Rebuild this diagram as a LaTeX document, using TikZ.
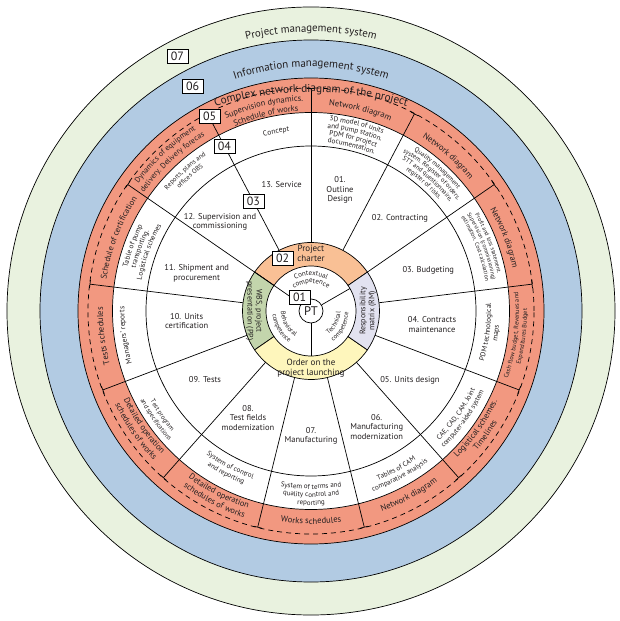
\documentclass[tikz,border=0pt]{standalone}
\usepackage{fontspec}
\setmainfont{PT Sans}
\usepackage{tikz}
\usetikzlibrary{positioning}
\usetikzlibrary{calc,arrows.meta}
\usetikzlibrary{decorations.text}

\definecolor{pmsgreen}{HTML}{E9F2DF}
\definecolor{imsblue}{HTML}{B2CBE3}
\definecolor{netred}{HTML}{F29880}
\definecolor{charterorange}{HTML}{F9C095}
\definecolor{matrixlilac}{HTML}{E2E2F0}
\definecolor{orderyellow}{HTML}{FEF6BC}
\definecolor{wbsgreen}{HTML}{C3D5AC}
\definecolor{inktext}{HTML}{231F20}

\tikzset{
	ring/.style={draw=black, line width=0.7pt},
	divider/.style={draw=black, line width=0.7pt},
	tdivider/.style={divider, -{Bar[width=8pt, line width=0.7pt]}},
	numbox/.style={draw=black, fill=white, line width=0.6pt, minimum width=21pt, minimum height=14pt, inner sep=0pt, text=inktext, font=\fontsize{12}{12}\selectfont},
	seglabel/.style={align=center, inner sep=0pt, text=inktext, font=\fontsize{8.5}{9.6}\selectfont},
	sectorlabel/.style={align=center, inner sep=0pt, text=inktext, font=\fontsize{9}{10}\selectfont},
}

% text on an arc, upright on the upper side (first line outermost)
\newcommand{\arcup}[4]{%
	\path[decorate, decoration={text along path, text align=center,
		text={|\fontsize{#3}{#3}\selectfont\color{inktext}|#4}}]
		(#1+70:#2pt) arc[start angle=#1+70, end angle=#1-70, radius=#2pt];}
% text on an arc, upright on the lower side (first line innermost)
\newcommand{\arcdown}[4]{%
	\path[decorate, decoration={text along path, text align=center,
		text={|\fontsize{#3}{#3}\selectfont\color{inktext}|#4}}]
		(#1-70:#2pt) arc[start angle=#1-70, end angle=#1+70, radius=#2pt];}

\begin{document}
\begin{tikzpicture}
		
		% ---------------------
		% Proper size --- Bounding box
		\useasboundingbox (-311pt,-310pt) rectangle (309pt,311pt);
		
		% ---------------------
		% Centre & bands
		\coordinate (O) at (0pt,0pt);
		
		\draw[ring, fill=pmsgreen] (O) circle[radius=304pt];
		\draw[ring, fill=imsblue] (O) circle[radius=271pt];
		\draw[ring, fill=netred] (O) circle[radius=233pt];
		\draw[ring, fill=white] (O) circle[radius=198.5pt];
		\draw[ring] (O) circle[radius=165pt];
		\draw[ring, dash pattern=on 5pt off 4pt] (O) circle[radius=223pt];
		
		% ---------------------
		% Inner ring & core
		\draw[ring, fill=charterorange] (34.6:45pt) arc[start angle=34.6, end angle=145.4, radius=45pt]
			-- (145.4:68.5pt) arc[start angle=145.4, end angle=34.6, radius=68.5pt] -- cycle;
		\draw[ring, fill=wbsgreen] (145.4:45pt) arc[start angle=145.4, end angle=214.6, radius=45pt]
			-- (214.6:68.5pt) arc[start angle=214.6, end angle=145.4, radius=68.5pt] -- cycle;
		\draw[ring, fill=orderyellow] (214.6:45pt) arc[start angle=214.6, end angle=325.4, radius=45pt]
			-- (325.4:68.5pt) arc[start angle=325.4, end angle=214.6, radius=68.5pt] -- cycle;
		\draw[ring, fill=matrixlilac] (-34.6:45pt) arc[start angle=-34.6, end angle=34.6, radius=45pt]
			-- (34.6:68.5pt) arc[start angle=34.6, end angle=-34.6, radius=68.5pt] -- cycle;
		
		\node[circle, draw=black, line width=0.7pt, fill=white, minimum size=24pt, inner sep=0pt, text=inktext, font=\fontsize{12.5}{12.5}\selectfont] (PT) at (O) {PT};
		
		\coordinate (CoreR) at (30:45pt);
		\coordinate (CoreB) at (270:45pt);
		\draw[divider] (PT) -- (CoreR);
		\draw[divider] (PT) -- (CoreB);
		
		% ---------------------
		% Sector dividers
		\foreach \k in {0,...,12}{
			\coordinate (Foot\k) at ({90-\k*360/13}:68.5pt);
			\coordinate (Tip\k) at ({90-\k*360/13}:223pt);
		}
		\foreach \k in {0,1,2,3,4,5,6,7,8,9,10,12}
			\draw[tdivider] (Foot\k) -- (Tip\k);
		\draw[tdivider] (PT) -- (Tip11);
		
		% ---------------------
		% Outer systems
		\arcup{90}{279}{10.8}{Project management system}
		\arcup{90}{244}{11}{Information management system}
		
		\coordinate (TitleC) at (0pt,-111pt);
		\path[decorate, decoration={text along path, text align=center,
			text={|\fontsize{11.2}{11.2}\selectfont\color{inktext}|Complex network diagram of the project}}]
			(TitleC) ++(130:330pt) arc[start angle=130, end angle=50, radius=330pt];
		
		% ---------------------
		% Network band
		\arcup{103}{210}{8.4}{Supervision dynamics.}
		\arcup{103}{200}{8.4}{Schedule of works}
		\arcup{76.2}{206}{8.6}{Network diagram}
		\arcup{48.5}{206}{8.6}{Network diagram}
		\arcup{20.8}{206}{8.6}{Network diagram}
		\arcdown{-6.9}{208}{6.3}{Cash flow budget, Revenues and}
		\arcdown{-6.9}{216}{6.3}{Expenditures Budget}
		\arcdown{-35.5}{207}{8.4}{Logistical schemes.}
		\arcdown{-35.5}{217}{8.4}{Timelines}
		\arcdown{-62}{212.5}{8.6}{Network diagram}
		\arcdown{-90}{213}{8.6}{Works schedules}
		\arcdown{-117}{207}{8.4}{Detailed operation}
		\arcdown{-117}{217}{8.4}{schedules of works}
		\arcdown{-145.5}{207}{8.4}{Detailed operation}
		\arcdown{-145.5}{217}{8.4}{schedules of works}
		\arcup{186.9}{208}{8.6}{Tests schedules}
		\arcup{159.2}{207}{8.4}{Schedule of certification}
		\arcup{133}{214.5}{7.8}{Dynamics of equipment}
		\arcup{133}{204.5}{7.8}{delivery. Delivery forecas}
		
		% ---------------------
		% Documents band
		\arcup{101}{181}{7.5}{Concept}
		\arcup{76.2}{191}{7.2}{3D model of units}
		\arcup{76.2}{183.6}{7.2}{and pump station.}
		\arcup{76.2}{176.2}{7.2}{PDM for project}
		\arcup{76.2}{168.8}{7.2}{documentation.}
		\arcup{48.5}{190.5}{6.5}{Quality management}
		\arcup{48.5}{183.5}{6.5}{system. Register of orders.}
		\arcup{48.5}{176.5}{6.5}{STT and questionnaire,}
		\arcup{48.5}{169.5}{6.5}{register of risks.}
		\arcup{20.8}{190}{5.8}{Profit and loss statement.}
		\arcup{20.8}{183.5}{5.8}{Supervision (commissioning)}
		\arcup{20.8}{177}{5.8}{estimation. Cost calculation}
		\arcdown{-6.9}{180}{7.3}{PDM technological}
		\arcdown{-6.9}{188.5}{7.3}{maps}
		\arcdown{-35.4}{182}{7}{CAE, CAD, CAM. Joint}
		\arcdown{-35.4}{190.5}{7}{computer-aided system}
		\arcdown{-61.6}{182}{7}{Tables of CAM}
		\arcdown{-61.6}{190.5}{7}{comparative analysis}
		\arcdown{-90}{178}{7}{System of terms and}
		\arcdown{-90}{186}{7}{quality control and}
		\arcdown{-90}{194}{7}{reporting}
		\arcdown{-117.6}{177.5}{7}{System of control}
		\arcdown{-117.6}{186}{7}{and reporting}
		\arcdown{-145}{184}{6.5}{Test program}
		\arcdown{-145}{192.5}{6.5}{and specifications}
		\arcup{187.5}{186.5}{7.5}{Managers' reports}
		\arcup{160}{188.5}{7.2}{Table of pump}
		\arcup{160}{180.5}{7.2}{transporting.}
		\arcup{160}{172}{7.2}{Logistical schemes}
		\arcup{132}{187.5}{6.6}{Reports, plans and}
		\arcup{132}{179.5}{6.6}{offices OBS}
		
		% ---------------------
		% Stages
		\node[seglabel] (Seg01) at (29pt,121pt) {01.\\Outline\\Design};
		\node[seglabel] (Seg02) at (89pt,92.7pt) {02. Contracting};
		\node[seglabel] (Seg03) at (117.3pt,41pt) {03. Budgeting};
		\node[seglabel] (Seg04) at (121pt,-13.5pt) {04. Contracts\\maintenance};
		\node[seglabel] (Seg05) at (99pt,-69pt) {05. Units design};
		\node[seglabel] (Seg06) at (65.7pt,-115.7pt) {06.\\Manufacturing\\modernization};
		\node[seglabel] (Seg07) at (0pt,-125pt) {07.\\Manufacturing};
		\node[seglabel] (Seg08) at (-63pt,-107pt) {08.\\Test fields\\modernization};
		\node[seglabel] (Seg09) at (-106pt,-69pt) {09. Tests};
		\node[seglabel] (Seg10) at (-124.3pt,-10pt) {10. Units\\certification};
		\node[seglabel] (Seg11) at (-114.3pt,37.7pt) {11. Shipment and\\procurement};
		\node[seglabel] (Seg12) at (-91pt,89.3pt) {12. Supervision and\\commissioning};
		\node[seglabel] (Seg13) at (-29.3pt,126pt) {13. Service};
		
		% ---------------------
		% Inner ring & competences
		\node[sectorlabel] (Charter) at (90:57.5pt) {Project\\charter};
		\node[sectorlabel] (Order) at (270:57.5pt) {Order on the\\project launching};
		\node[sectorlabel, rotate=90, font=\fontsize{8}{9}\selectfont] (Matrix) at (0:57pt) {Responsibility\\matrix (RM)};
		\node[sectorlabel, rotate=-90, font=\fontsize{8}{9}\selectfont] (WBS) at (180:57pt) {WBS, project\\presentation (PP)};
		
		\arcup{90}{35.5}{7}{Contextual}
		\arcup{90}{28}{7}{competence}
		\arcdown{210}{30}{6.5}{Behavioral}
		\arcdown{210}{38.5}{6.5}{competence}
		\arcdown{-28}{29.5}{6.5}{Technical}
		\arcdown{-28}{37.5}{6.5}{competence}
		
		% ---------------------
		% Level marks
		\node[numbox] (Box01) at (-11.3pt,13.5pt) {01};
		\node[numbox] (Box02) at (118.5:59.5pt) {02};
		\node[numbox] (Box03) at (117.7:124pt) {03};
		\node[numbox] (Box04) at (117.7:186.5pt) {04};
		\node[numbox] (Box05) at (117.5:219.5pt) {05};
		\node[numbox] (Box06) at (117.8:254pt) {06};
		\node[numbox] (Box07) at (117.7:287.5pt) {07};
		
\end{tikzpicture}
\end{document}
